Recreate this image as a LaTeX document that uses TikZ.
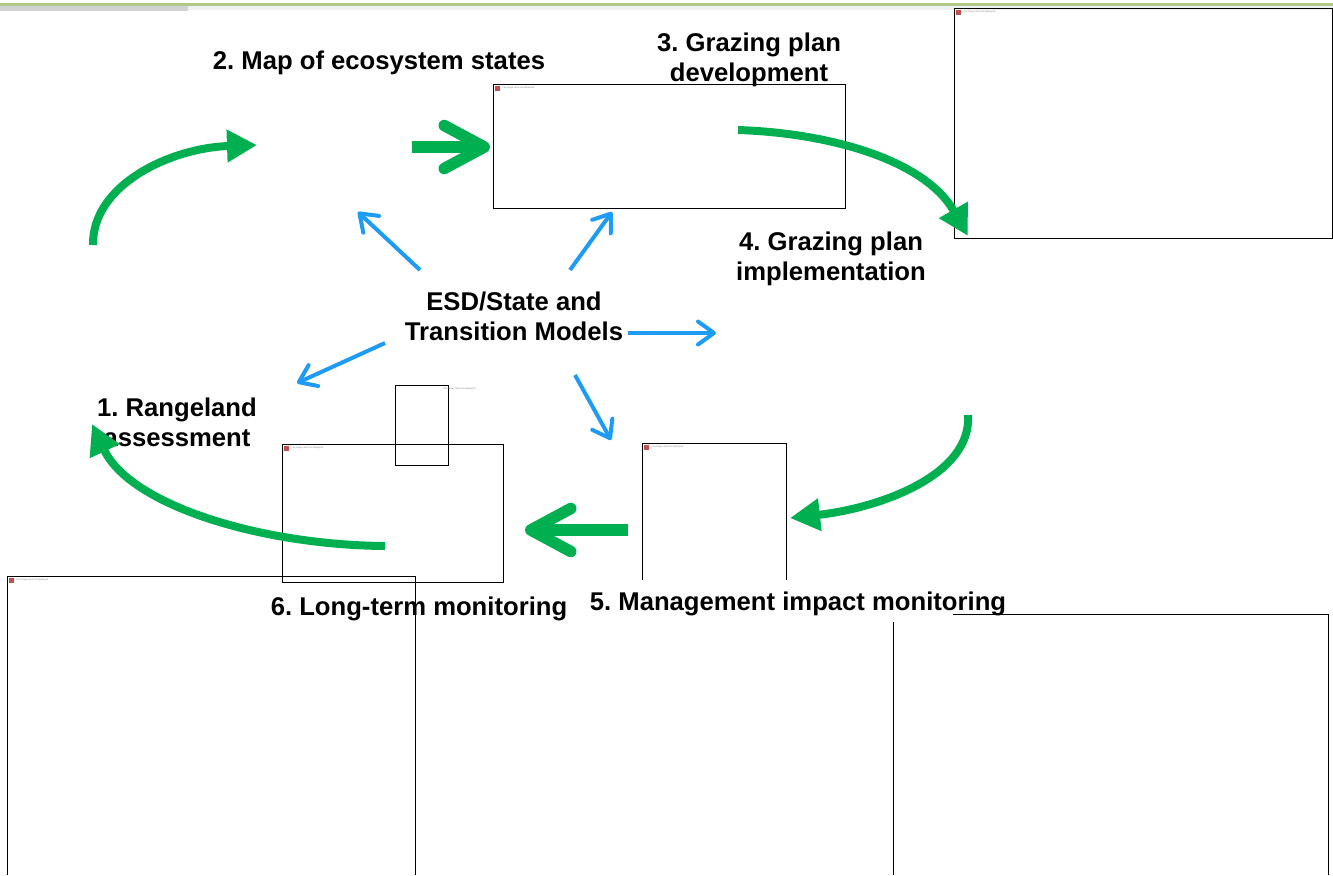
\documentclass[tikz,border=0pt]{standalone}
\usepackage{fontspec}
\setmainfont{Liberation Sans}
\usepackage{tikz}
\usetikzlibrary{arrows.meta}
\definecolor{cyclegreen}{HTML}{00B050}
\definecolor{esdblue}{HTML}{1E9BF5}
\definecolor{bargreen}{HTML}{AFC98A}
\definecolor{iconred}{HTML}{C0504D}
\frenchspacing

\begin{document}
\begin{tikzpicture}[x=0.2mm,y=-0.2mm,
    steplabel/.style={font=\bfseries\fontsize{14.6}{17}\selectfont, align=center, inner sep=0pt},
    picbox/.style={draw=black, line width=0.5pt},
    brokenmsg/.style={font=\fontsize{1.3}{1.5}\selectfont, text=gray, anchor=north west, inner sep=0pt},
    cyclearrow/.style={draw=cyclegreen, line width=1.6mm, -{Triangle[length=6mm,width=6.2mm]}},
    bigarrow/.style={draw=cyclegreen, line width=2.3mm, -{Straight Barb[round,length=8mm,width=8.6mm]}},
    esdlink/.style={draw=esdblue, line width=0.8mm, -{Straight Barb[round,length=3.2mm,width=4.6mm]}}]
    \useasboundingbox (0,0) rectangle (1333,875);

    % Title bar
    \fill[bargreen] (0,3) rectangle (1333,6);
    \fill[gray!35] (0,6) rectangle (188,11);
    \fill[gray!12] (188,6) rectangle (1333,10);

    % Picture frames
    \draw[picbox] (493,84) rectangle (845,208);
    \draw[picbox] (954,8) rectangle (1332,238);
    \draw[picbox] (395,385) rectangle (448,465);
    \draw[picbox] (282,444) rectangle (503,582);
    \draw[picbox] (642,580) -- (642,443) -- (786,443) -- (786,580);
    \draw[picbox] (7,875) -- (7,576) -- (415,576) -- (415,875);
    \draw[picbox] (893,875) -- (893,622);
    \draw[picbox] (953,614) -- (1328,614) -- (1328,875);
    \foreach \ix/\iy/\n in {495/86/a, 956/10/b, 284/446/c, 644/445/d, 9/578/e} {
        \fill[iconred] (\ix,\iy) rectangle ++(5,5);
        \node[brokenmsg] (msg\n) at (\ix+7,\iy) {The image cannot be displayed.};
    }
    \node[brokenmsg] (msgf) at (443,387) {The image cannot be displayed.};

    % Steps
    \node[steplabel] (map) at (379,63) {2. Map of ecosystem states};
    \node[steplabel] (plan) at (749,60) {3. Grazing plan\\development};
    \node[steplabel] (impl) at (831,259) {4. Grazing plan\\implementation};
    \node[steplabel] (esd) at (514,316) {ESD/State and\\Transition Models};
    \node[steplabel] (assess) at (177,422) {1. Rangeland\\assessment};
    \node[steplabel] (longterm) at (419,609) {6. Long-term monitoring};
    \node[steplabel] (impact) at (798,604) {5. Management impact monitoring};

    % Cycle arrows
    \coordinate (c1s) at (93,245);  \coordinate (c1e) at (257,145);
    \coordinate (c2s) at (738,130); \coordinate (c2e) at (968,236);
    \coordinate (c3s) at (968,415); \coordinate (c3e) at (790,518);
    \coordinate (c4s) at (385,546); \coordinate (c4e) at (92,424);
    \draw[cyclearrow] (c1s) .. controls (92,185) and (170,148) .. (c1e);
    \draw[cyclearrow] (c2s) .. controls (830,133) and (925,160) .. (c2e);
    \draw[cyclearrow] (c3s) .. controls (972,475) and (880,508) .. (c3e);
    \draw[cyclearrow] (c4s) .. controls (260,545) and (130,505) .. (c4e);

    \coordinate (g1s) at (412,147); \coordinate (g1e) at (490,147);
    \coordinate (g2s) at (628,530); \coordinate (g2e) at (525,530);
    \draw[bigarrow] (g1s) -- (g1e);
    \draw[bigarrow] (g2s) -- (g2e);

    % ESD links
    \coordinate (e1s) at (420,270); \coordinate (e1e) at (358,212);
    \coordinate (e2s) at (570,270); \coordinate (e2e) at (612,212);
    \coordinate (e3s) at (628,333); \coordinate (e3e) at (716,333);
    \coordinate (e4s) at (385,343); \coordinate (e4e) at (297,383);
    \coordinate (e5s) at (575,375); \coordinate (e5e) at (611,440);
    \foreach \k in {1,...,5} {
        \draw[esdlink] (e\k s) -- (e\k e);
    }
\end{tikzpicture}
\end{document}
